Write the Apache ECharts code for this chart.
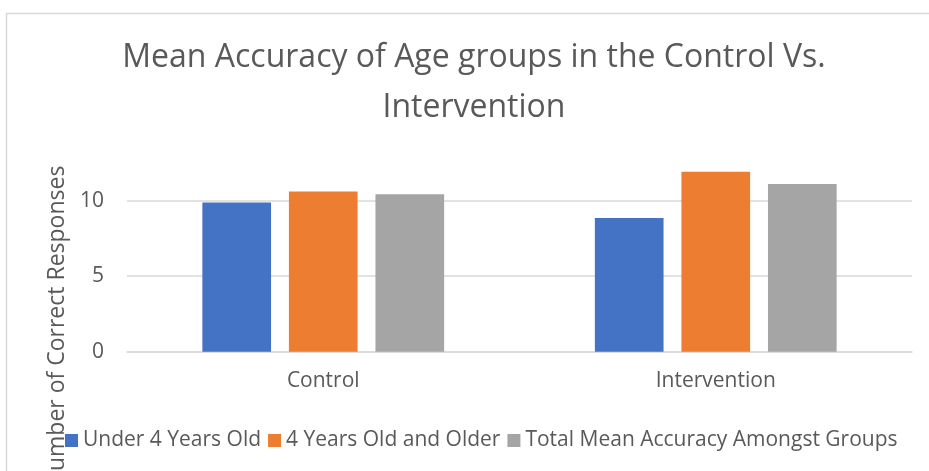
<!DOCTYPE html>
<html>
<head>
<meta charset="utf-8">
<script src="https://cdn.jsdelivr.net/npm/echarts@6/dist/echarts.min.js"></script>
<style>html,body{margin:0;padding:0;background:#fff;}#c{width:929px;height:471px;}</style>
</head>
<body>
<div id="c"></div>
<script>
const categories = ['Control', 'Intervention'];
const seriesNames = ['Under 4 Years Old', '4 Years Old and Older', 'Total Mean Accuracy Amongst Groups'];
const under4 = [9.87, 8.85];
const older4 = [10.6, 11.9];
const totalMean = [10.42, 11.1];
const colors = ['#4472C4', '#ED7D31', '#A5A5A5'];
const titleText = 'Mean Accuracy of Age groups in the Control Vs.\nIntervention';
const yAxisTitle = 'Number of Correct Responses';

const FONT = '"Open Sans", sans-serif';
const TXT = '#595959';
const chart = echarts.init(document.getElementById('c'), null, {renderer: 'canvas'});
const values = [under4, older4, totalMean];
chart.setOption({
  animation: false,
  color: colors,
  title: {
    text: titleText,
    left: 469,
    textAlign: 'center',
    top: 28,
    textStyle: {fontFamily: FONT, fontSize: 32, fontWeight: 'normal', color: TXT, lineHeight: 50}
  },
  legend: {
    left: 60, top: 425,
    itemWidth: 13, itemHeight: 13, itemGap: 7,
    icon: 'rect',
    textStyle: {fontFamily: FONT, fontSize: 21, color: TXT},
    data: seriesNames
  },
  grid: {left: 127, right: 17, top: 125, bottom: 119.3, containLabel: false},
  xAxis: {
    type: 'category', data: categories,
    axisLine: {lineStyle: {color: '#d9d9d9', width: 1.5}},
    axisTick: {show: false},
    axisLabel: {fontFamily: FONT, fontSize: 21, color: TXT, margin: 19}
  },
  yAxis: {
    type: 'value', min: 0, max: 15, interval: 5,
    axisLine: {show: false}, axisTick: {show: false},
    axisLabel: {fontFamily: FONT, fontSize: 21, color: TXT, margin: 23, showMaxLabel: false},
    splitLine: {show: true, showMaxLine: false, lineStyle: {color: '#d9d9d9', width: 1.5}}
  },
  graphic: [
    {type: 'rect', left: 4, top: 11, shape: {width: 1000, height: 1000}, style: {fill: 'none', stroke: '#d9d9d9', lineWidth: 1.5}, silent: true},
    {type: 'text', x: 57, y: 327, rotation: Math.PI / 2,
     style: {text: yAxisTitle, font: '23px "Open Sans", sans-serif', fill: TXT, textAlign: 'center', textVerticalAlign: 'middle'}}
  ],
  series: seriesNames.map((n, i) => ({
    name: n, type: 'bar', data: values[i],
    barWidth: '17.5%', barGap: '26%',
    itemStyle: {color: colors[i]}
  }))
});
</script>
</body>
</html>
